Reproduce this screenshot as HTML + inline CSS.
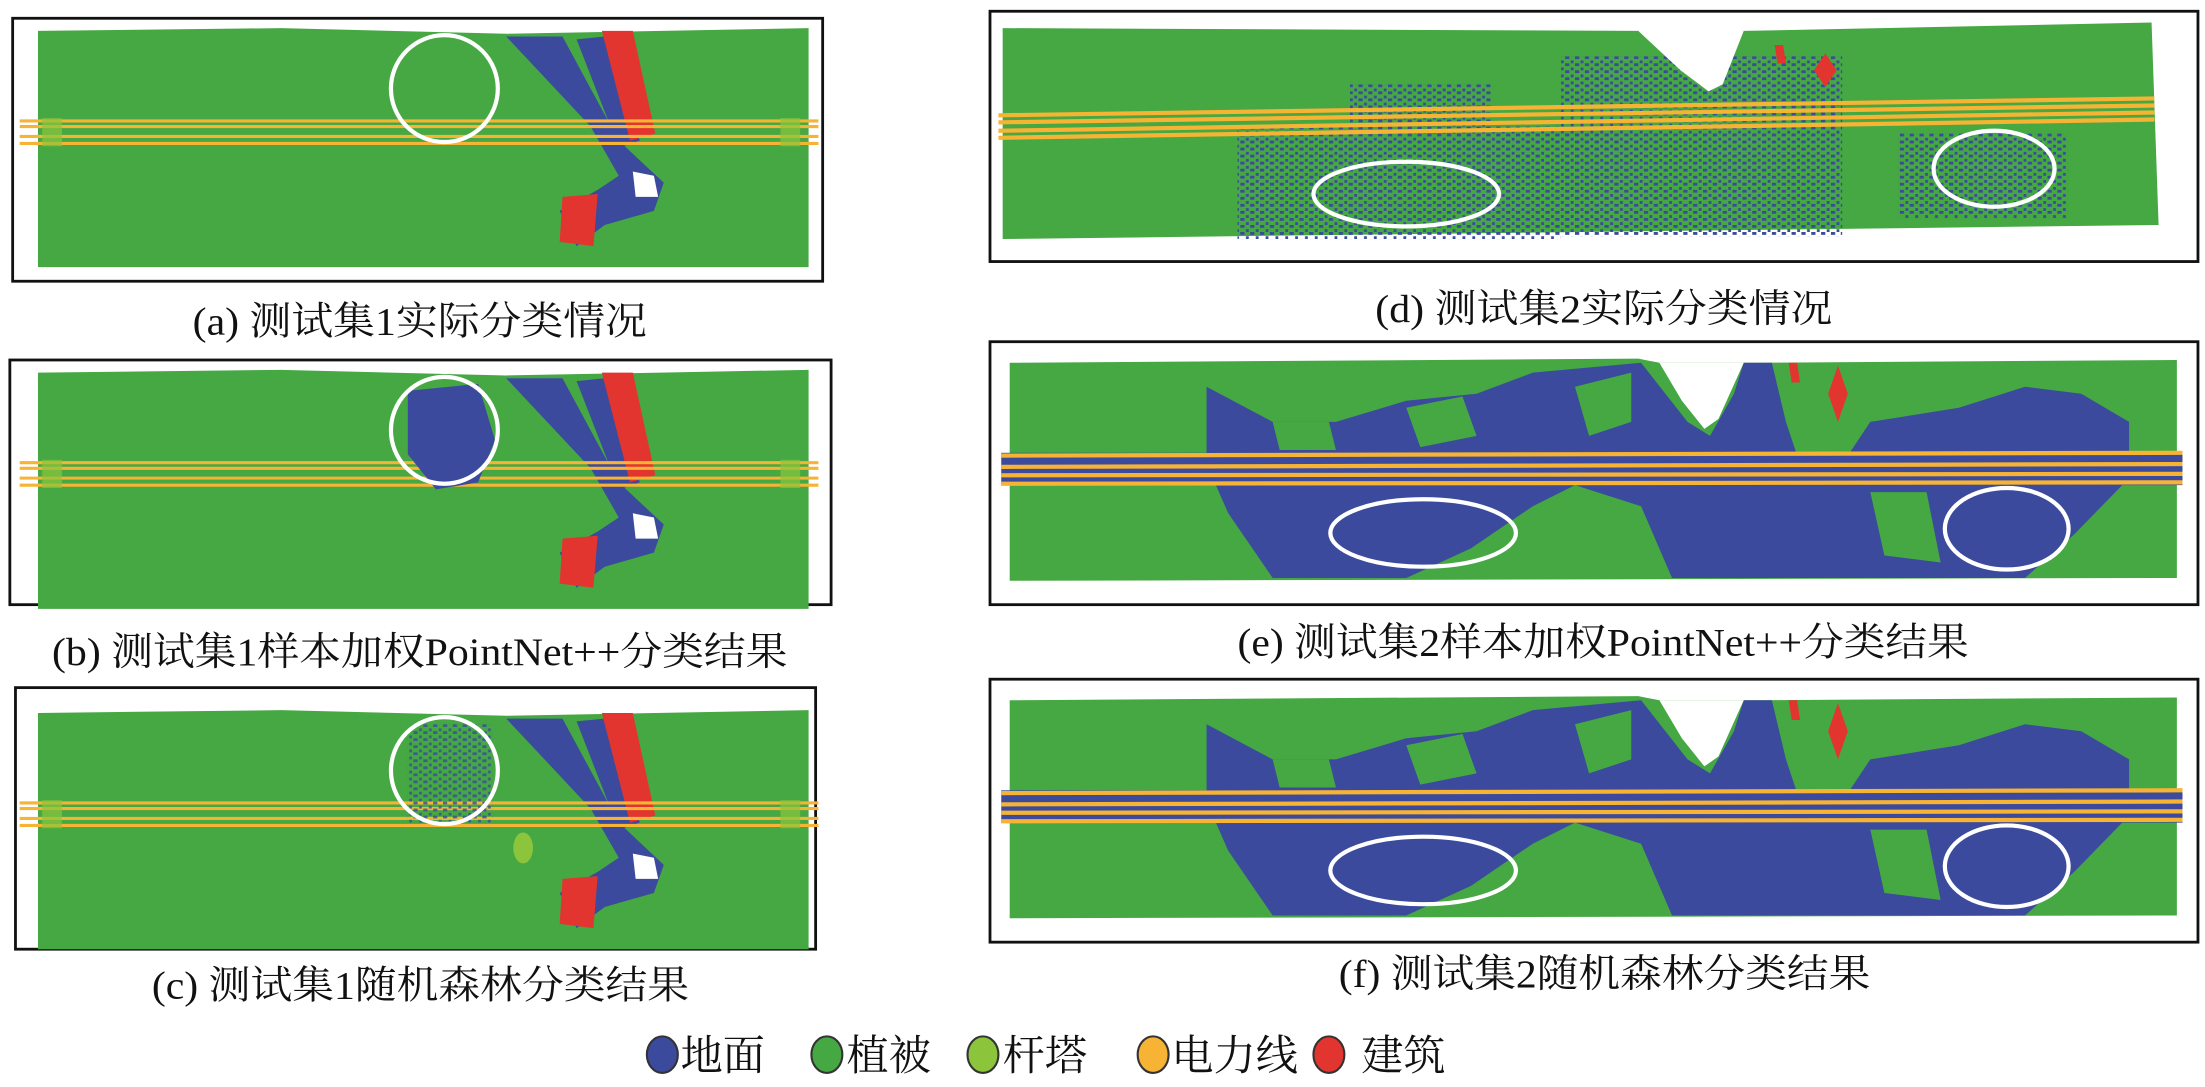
<!DOCTYPE html>
<html><head><meta charset="utf-8"><style>
html,body{margin:0;padding:0;background:#fff;}
svg{display:block;}
text{font-family:"Liberation Serif","Noto Serif CJK SC",serif;fill:#111;}
</style></head><body>
<svg width="2205" height="1087" viewBox="0 0 1568 773" preserveAspectRatio="none" xmlns="http://www.w3.org/2000/svg">
<defs>
<pattern id="sp" width="7" height="5" patternUnits="userSpaceOnUse">
<rect x="0" y="0" width="3" height="2" fill="#3b4a9c"/><rect x="4" y="3" width="2" height="2" fill="#3b4a9c"/>
</pattern>
<g id="p1">
<path d="M27,22 L200,20 L360,24 L575,20 L575,190 L27,190 Z" fill="#45a843"/>
<path d="M360,26 L400,26 L440,100 L472,130 L465,150 L430,160 L410,175 L398,150 L425,135 L440,125 L420,90 Z" fill="#3b4a9c"/>
<path d="M410,28 L430,26 L455,100 L440,105 Z" fill="#3b4a9c"/>
<path d="M428,22 L450,22 L466,95 L448,100 Z" fill="#e23530"/>
<path d="M400,140 L425,138 L422,175 L398,172 Z" fill="#e23530"/>
<path d="M450,122 L465,125 L468,140 L452,140 Z" fill="#fff"/>
<g stroke="#f7b334" stroke-width="2.2"><line x1="14" y1="86" x2="582" y2="86"/><line x1="14" y1="90" x2="582" y2="90"/><line x1="14" y1="97" x2="582" y2="97"/><line x1="14" y1="102" x2="582" y2="102"/></g>
<rect x="30" y="84" width="14" height="20" fill="#8cc43c" opacity=".7"/><rect x="555" y="84" width="14" height="20" fill="#8cc43c" opacity=".7"/>
</g>
<g id="p2">
<path d="M718,258 L1165,255 L1180,258 L1240,258 L1548,256 L1548,411 L718,413 Z" fill="#45a843"/>
<path d="M858,275 L905,300 L950,300 L1000,285 L1050,280 L1090,265 L1167,258 L1200,300 L1216,310 L1233,280 L1240,258 L1260,258 L1270,300 L1280,330 L1310,330 L1330,300 L1393,290 L1440,275 L1480,280 L1514,300 L1514,340 L1475,380 L1440,411 L1393,411 L1300,411 L1271,411 L1233,411 L1189,411 L1167,360 L1120,345 L1090,360 L1046,390 L1000,411 L940,411 L902,411 L880,380 L858,330 Z" fill="#3b4a9c"/>
<path d="M905,300 L945,300 L950,320 L910,320 Z" fill="#45a843"/>
<path d="M1000,290 L1040,282 L1050,310 L1010,318 Z" fill="#45a843"/>
<path d="M1120,275 L1160,265 L1160,300 L1130,310 Z" fill="#45a843"/>
<path d="M870,360 L905,411 L880,411 Z" fill="#45a843"/>
<path d="M1270,270 L1300,265 L1320,300 L1290,310 Z" fill="#45a843"/>
<path d="M1330,350 L1370,350 L1380,400 L1340,395 Z" fill="#45a843"/>
<path d="M1180,258 L1240,258 L1222,298 L1212,305 L1196,285 Z" fill="#fff"/>
<path d="M1307,260 L1314,280 L1307,300 L1300,280 Z" fill="#e23530"/>
<path d="M1272,258 L1278,258 L1280,272 L1274,272 Z" fill="#e23530"/>
<rect x="712" y="322" width="840" height="23" fill="#3b4a9c"/>
<g stroke="#f7b334" stroke-width="3"><line x1="712" y1="324" x2="1552" y2="322"/><line x1="712" y1="332" x2="1552" y2="330"/><line x1="712" y1="338" x2="1552" y2="337"/><line x1="712" y1="344" x2="1552" y2="343"/></g>
<ellipse cx="1012" cy="379" rx="66" ry="24" fill="none" stroke="#fff" stroke-width="3"/>
<ellipse cx="1427" cy="376" rx="44" ry="29" fill="none" stroke="#fff" stroke-width="3"/>
</g>
</defs>

<!-- a -->
<rect x="9" y="13" width="576" height="187" fill="#fff" stroke="#111" stroke-width="2"/>
<use href="#p1"/>
<ellipse cx="316" cy="63" rx="38" ry="38" fill="none" stroke="#fff" stroke-width="3"/>
<text x="137" y="238" font-size="28" textLength="323" lengthAdjust="spacingAndGlyphs">(a) 测试集1实际分类情况</text>

<!-- b -->
<rect x="7" y="256" width="584" height="174" fill="#fff" stroke="#111" stroke-width="2"/>
<g transform="translate(0,243)"><use href="#p1"/>
<path d="M290,35 L340,30 L352,70 L340,100 L310,105 L290,80 Z" fill="#3b4a9c"/>
<ellipse cx="316" cy="63" rx="38" ry="38" fill="none" stroke="#fff" stroke-width="3"/></g>
<text x="37" y="473" font-size="28" textLength="523" lengthAdjust="spacingAndGlyphs">(b) 测试集1样本加权PointNet++分类结果</text>

<!-- c -->
<rect x="11" y="489" width="569" height="186" fill="#fff" stroke="#111" stroke-width="2"/>
<g transform="translate(0,485)"><use href="#p1"/>
<rect x="290" y="30" width="60" height="70" fill="url(#sp)" opacity=".8"/>
<ellipse cx="372" cy="118" rx="7" ry="11" fill="#8cc43c"/>
<ellipse cx="316" cy="63" rx="38" ry="38" fill="none" stroke="#fff" stroke-width="3"/></g>
<text x="108" y="710" font-size="28" textLength="382" lengthAdjust="spacingAndGlyphs">(c) 测试集1随机森林分类结果</text>

<!-- d -->
<rect x="704" y="8" width="859" height="178" fill="#fff" stroke="#111" stroke-width="2"/>
<path d="M713,20 L1165,22 L1180,25 L1240,22 L1530,16 L1535,160 L713,170 Z" fill="#45a843"/>
<rect x="880" y="90" width="230" height="80" fill="url(#sp)"/>
<rect x="1110" y="40" width="200" height="128" fill="url(#sp)"/>
<rect x="1350" y="95" width="120" height="60" fill="url(#sp)"/>
<rect x="960" y="60" width="100" height="30" fill="url(#sp)"/>
<path d="M1165,22 L1240,22 L1225,60 L1215,65 L1195,50 Z" fill="#fff"/>
<path d="M1298,38 L1306,50 L1298,62 L1290,50 Z" fill="#e23530"/>
<path d="M1262,32 L1268,32 L1270,45 L1264,45 Z" fill="#e23530"/>
<g stroke="#f7b334" stroke-width="3"><line x1="710" y1="82" x2="1532" y2="70"/><line x1="710" y1="87" x2="1532" y2="75"/><line x1="710" y1="93" x2="1532" y2="80"/><line x1="710" y1="98" x2="1532" y2="85"/></g>
<ellipse cx="1000" cy="138" rx="66" ry="23" fill="none" stroke="#fff" stroke-width="3"/>
<ellipse cx="1418" cy="120" rx="43" ry="27" fill="none" stroke="#fff" stroke-width="3"/>
<text x="978" y="229" font-size="28" textLength="325" lengthAdjust="spacingAndGlyphs">(d) 测试集2实际分类情况</text>

<!-- e -->
<rect x="704" y="243" width="859" height="187" fill="#fff" stroke="#111" stroke-width="2"/>
<use href="#p2"/>
<text x="880" y="466" font-size="28" textLength="520" lengthAdjust="spacingAndGlyphs">(e) 测试集2样本加权PointNet++分类结果</text>

<!-- f -->
<rect x="704" y="483" width="859" height="187" fill="#fff" stroke="#111" stroke-width="2"/>
<g transform="translate(0,240)"><use href="#p2"/></g>
<text x="952" y="702" font-size="28" textLength="378" lengthAdjust="spacingAndGlyphs">(f) 测试集2随机森林分类结果</text>

<!-- legend -->
<g stroke="#333" stroke-width="1.5">
<ellipse cx="471" cy="750" rx="11" ry="13" fill="#3b4a9c"/>
<ellipse cx="588" cy="750" rx="11" ry="13" fill="#45a843"/>
<ellipse cx="699" cy="750" rx="11" ry="13" fill="#8cc43c"/>
<ellipse cx="820" cy="750" rx="11" ry="13" fill="#f7b334"/>
<ellipse cx="945" cy="750" rx="11" ry="13" fill="#e23530"/>
</g>
<text x="484" y="761" font-size="30">地面</text>
<text x="602" y="761" font-size="30">植被</text>
<text x="713" y="761" font-size="30">杆塔</text>
<text x="833" y="761" font-size="30">电力线</text>
<text x="968" y="761" font-size="30">建筑</text>
</svg>
</body></html>
